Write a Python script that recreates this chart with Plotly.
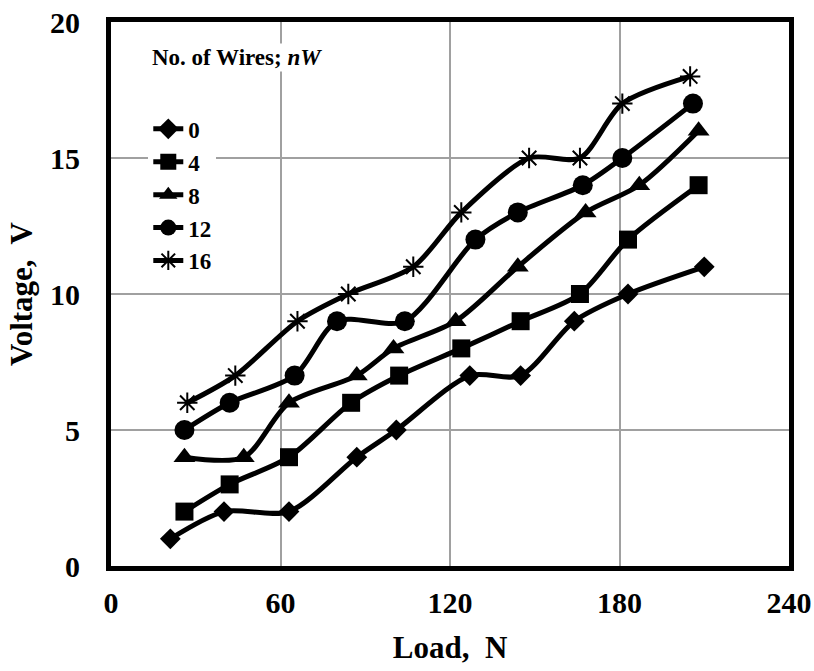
import plotly.graph_objects as go

load_0 = [21, 40, 63, 87, 101, 127, 145, 164, 183, 210]
volt_0 = [1, 2, 2, 4, 5, 7, 7, 9, 10, 11]
load_4 = [26, 42, 63, 85, 102, 124, 145, 166, 183, 208]
volt_4 = [2, 3, 4, 6, 7, 8, 9, 10, 12, 14]
load_8 = [26, 47, 63, 87, 100, 122, 144, 168, 187, 208]
volt_8 = [4, 4, 6, 7, 8, 9, 11, 13, 14, 16]
load_12 = [26, 42, 65, 80, 104, 129, 144, 167, 181, 206]
volt_12 = [5, 6, 7, 9, 9, 12, 13, 14, 15, 17]
load_16 = [27, 44, 66, 84, 107, 124, 148, 166, 181, 205]
volt_16 = [6, 7, 9, 10, 11, 13, 15, 15, 17, 18]

series = [
    ("0", load_0, volt_0, "diamond", 16),
    ("4", load_4, volt_4, "square", 18),
    ("8", load_8, volt_8, "triangle-up", 19),
    ("12", load_12, volt_12, "circle", 20),
    ("16", load_16, volt_16, "asterisk-open", 17),
]

fig = go.Figure()
for name, xs, ys, sym, sz in series:
    fig.add_trace(go.Scatter(
        x=xs, y=ys, name=name, mode="lines+markers",
        line=dict(color="black", width=5, shape="spline", smoothing=0.8),
        marker=dict(symbol=sym, size=sz, color="black",
                    line=dict(color="black", width=2 if sym == "asterisk-open" else 0)),
    ))

font_family = "Liberation Serif"
fig.update_layout(
    width=814, height=671,
    margin=dict(l=111, r=25, t=22, b=105, autoexpand=False),
    paper_bgcolor="white", plot_bgcolor="white",
    font=dict(family=font_family, color="black"),
    showlegend=True,
    legend=dict(x=0.055, y=0.843, xanchor="left", yanchor="top",
                bgcolor="white",
                font=dict(size=23, family=font_family, color="black", weight="bold"),
                tracegroupgap=0),
    annotations=[dict(
        text="No. of Wires; <i>nW</i>", x=0.058, y=0.935, xref="paper", yref="paper",
        xanchor="left", yanchor="middle", showarrow=False, bgcolor="white",
        font=dict(size=23, family=font_family, color="black", weight="bold"))],
)
axis_font = dict(size=30, family=font_family, color="black", weight="bold")
title_font = dict(size=31, family=font_family, color="black", weight="bold")
fig.update_xaxes(
    range=[0, 240], tickvals=[0, 60, 120, 180, 240], automargin=False,
    showgrid=True, gridcolor="#a0a0a0", gridwidth=2, zeroline=False,
    showline=True, linecolor="black", linewidth=5, mirror=True, ticks="",
    ticklabelstandoff=6, tickfont=axis_font,
    title=dict(text="Load,  N", font=title_font, standoff=20),
)
fig.update_yaxes(
    range=[0, 20], tickvals=[0, 5, 10, 15, 20], automargin=False,
    showgrid=True, gridcolor="#a0a0a0", gridwidth=2, zeroline=False,
    showline=True, linecolor="black", linewidth=5, mirror=True, ticks="",
    ticklabelstandoff=20, tickfont=axis_font,
    title=dict(text="Voltage,  V", font=title_font, standoff=10),
)
fig.write_html("out.html")
